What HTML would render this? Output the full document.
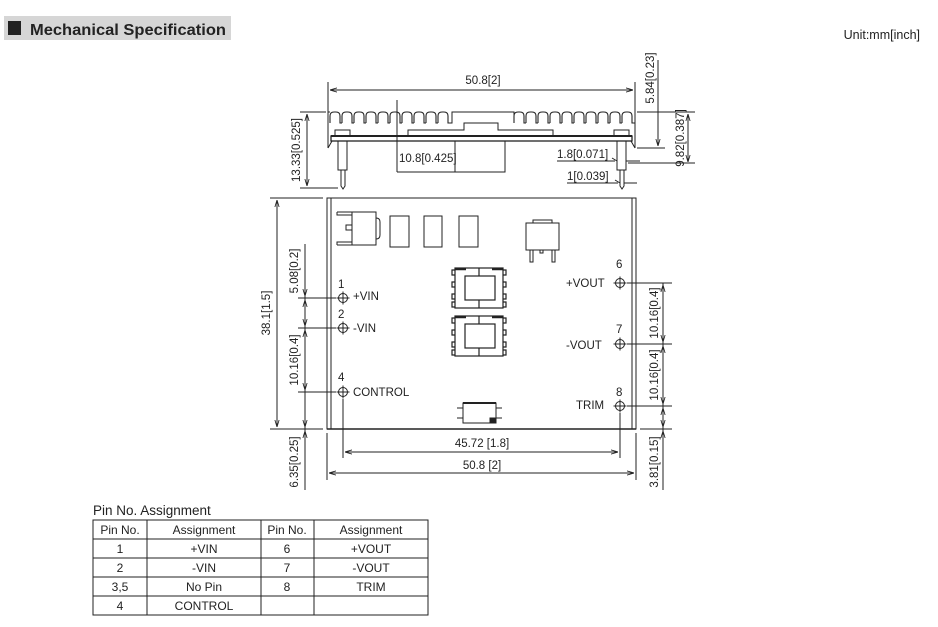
<!DOCTYPE html>
<html><head><meta charset="utf-8"><style>
html,body{margin:0;padding:0;background:#fff;width:938px;height:627px;overflow:hidden}
svg{display:block}
text{font-family:"Liberation Sans",sans-serif;fill:#222}
</style></head><body>
<svg width="938" height="627" viewBox="0 0 938 627" xmlns="http://www.w3.org/2000/svg">
<defs>
<marker id="a" viewBox="0 0 10 10" refX="10" refY="5" markerWidth="7" markerHeight="7" orient="auto-start-reverse" markerUnits="userSpaceOnUse"><path d="M0,2 L10,5 L0,8" fill="none" stroke="#222" stroke-width="1.2"/></marker>
<g id="pin"><circle r="4.5" fill="none" stroke="#222" stroke-width="1"/><line x1="-6.5" y1="0" x2="6.5" y2="0" stroke="#222"/><line x1="0" y1="-6.5" x2="0" y2="6.5" stroke="#222"/></g>
<path id="arch" d="M0,11 v-7 q0,-4 4,-4 h2 q4,0 4,4 v7 h2" fill="none" stroke="#222" stroke-width="1.1"/>
<g id="xf" fill="none" stroke="#222" stroke-width="1.2">
<rect x="455" y="0" width="48" height="40"/>
<rect x="465" y="8" width="30" height="24"/>
<line x1="479" y1="0" x2="479" y2="8"/><line x1="479" y1="32" x2="479" y2="40"/>
<path d="M455,2 h-3 v5 h3 M455,14 h-3 v5 h3 M455,26 h-3 v5 h3 M455,34 h-3 v5 h3 M503,2 h3 v5 h-3 M503,14 h3 v5 h-3 M503,26 h3 v5 h-3 M503,34 h3 v5 h-3"/>
<line x1="455" y1="1" x2="466" y2="1" stroke-width="2.5"/><line x1="492" y1="1" x2="503" y2="1" stroke-width="2.5"/>
</g>
</defs>

<!-- header -->
<rect x="4" y="16" width="227" height="24" fill="#d6d6d6"/>
<rect x="8" y="21" width="13" height="14" fill="#222"/>
<text x="30" y="35" font-size="16" font-weight="bold" textLength="196" lengthAdjust="spacingAndGlyphs">Mechanical Specification</text>
<text x="920" y="39" font-size="12.5" text-anchor="end">Unit:mm[inch]</text>

<!-- fins -->
<g transform="translate(0,112)">
<use href="#arch" x="330"/><use href="#arch" x="342"/><use href="#arch" x="354"/><use href="#arch" x="366"/><use href="#arch" x="378"/><use href="#arch" x="390"/><use href="#arch" x="402"/><use href="#arch" x="414"/><use href="#arch" x="426"/><use href="#arch" x="438"/>
<use href="#arch" x="514"/><use href="#arch" x="526"/><use href="#arch" x="538"/><use href="#arch" x="550"/><use href="#arch" x="562"/><use href="#arch" x="574"/><use href="#arch" x="586"/><use href="#arch" x="598"/><use href="#arch" x="610"/><use href="#arch" x="622"/>
</g>

<g stroke="#222" stroke-width="1" fill="none">
<!-- side view -->
<line x1="328" y1="82" x2="328" y2="148"/><line x1="635" y1="82" x2="635" y2="148"/>
<line x1="330" y1="90" x2="633" y2="90" marker-start="url(#a)" marker-end="url(#a)"/>
<path d="M328,112 h2 M450,123 h2 V112 H514 v11 M634,123 h1"/>
<rect x="331" y="136" width="301" height="5" stroke-width="1.3"/>
<line x1="331" y1="136" x2="632" y2="136" stroke-width="2"/>
<rect x="335" y="130" width="15" height="6"/><rect x="614" y="130" width="15" height="6"/>
<path d="M408,136 v-6 h56 v-7 h34 v7 h55 v6"/>
<rect x="455" y="141" width="50" height="31"/>
<path d="M338,141 v29 h9 v-29 M341,170 v16 l2,3 l2,-3 v-16"/>
<path d="M617,141 v29 h9 v-29 M620,170 v16 l2,3 l2,-3 v-16"/>
<path d="M328,148 l4,-7 M635,148 l-4,-7"/>
<!-- side dims -->
<line x1="300" y1="112" x2="326" y2="112"/><line x1="300" y1="188" x2="338" y2="188"/>
<line x1="307" y1="114" x2="307" y2="186" marker-start="url(#a)" marker-end="url(#a)"/>
<line x1="397" y1="100" x2="397" y2="172"/><line x1="397" y1="172" x2="455" y2="172"/>
<line x1="658" y1="60" x2="658" y2="146" marker-end="url(#a)"/>
<line x1="637" y1="148" x2="665" y2="148"/>
<line x1="637" y1="112" x2="695" y2="112"/>
<line x1="688" y1="114" x2="688" y2="162" marker-start="url(#a)" marker-end="url(#a)"/>
<line x1="628" y1="163" x2="695" y2="163"/>
<line x1="557" y1="161" x2="615" y2="161"/><line x1="617" y1="161" x2="612" y2="158"/>
<line x1="626" y1="161" x2="640" y2="161"/>
<line x1="567" y1="183" x2="618" y2="183"/><line x1="620" y1="183" x2="615" y2="180"/>
<line x1="624" y1="183" x2="637" y2="183"/>

<!-- top view board -->
<rect x="327" y="198" width="309" height="231"/>
<line x1="331" y1="198" x2="331" y2="429"/><line x1="632" y1="198" x2="632" y2="429"/>
<line x1="327" y1="429" x2="636" y2="429" stroke-width="1.6"/>
<!-- components -->
<rect x="352" y="212" width="24" height="33"/>
<path d="M337,212 h15 M337,245 h15 M337,212 v3 h15 M337,245 v-3 h15 M346,225 h6 v5 h-6 z M376,218 q4,0 4,4 v13 q0,4 -4,4"/>
<rect x="390" y="216" width="19" height="31"/><rect x="424" y="216" width="18" height="31"/><rect x="459" y="216" width="19" height="31"/>
<rect x="526" y="223" width="33" height="27"/><path d="M533,223 v-3 h19 v3 M530,250 v12 h3 v-12 M552,250 v12 h3 v-12 M540,250 v3 h3 v-3"/>
<use href="#xf" transform="translate(0,268)"/>
<use href="#xf" transform="translate(0,316)"/>
<rect x="463" y="403" width="33" height="20"/><line x1="463" y1="403" x2="496" y2="403" stroke-width="2"/>
<path d="M463,408 h-6 M463,418 h-6 M496,408 h6 M496,418 h6"/>
<rect x="490" y="418" width="5" height="4" fill="#222"/>
<!-- left dims -->
<line x1="270" y1="198" x2="323" y2="198"/><line x1="270" y1="429" x2="323" y2="429"/>
<line x1="277" y1="200" x2="277" y2="427" marker-start="url(#a)" marker-end="url(#a)"/>
<line x1="305" y1="244" x2="305" y2="490"/>
<line x1="305" y1="290" x2="305" y2="296" marker-end="url(#a)"/>
<line x1="305" y1="306" x2="305" y2="300" marker-end="url(#a)"/>
<line x1="305" y1="320" x2="305" y2="326" marker-end="url(#a)"/>
<line x1="305" y1="336" x2="305" y2="330" marker-end="url(#a)"/>
<line x1="305" y1="384" x2="305" y2="390" marker-end="url(#a)"/>
<line x1="305" y1="421" x2="305" y2="427" marker-end="url(#a)"/>
<line x1="305" y1="437" x2="305" y2="431" marker-end="url(#a)"/>
<line x1="298" y1="298" x2="336" y2="298"/><line x1="298" y1="328" x2="336" y2="328"/><line x1="298" y1="392" x2="336" y2="392"/>
<!-- right dims -->
<line x1="627" y1="283" x2="672" y2="283"/><line x1="627" y1="344" x2="672" y2="344"/><line x1="627" y1="406" x2="672" y2="406"/>
<line x1="640" y1="429" x2="672" y2="429"/>
<line x1="663" y1="283" x2="663" y2="490"/>
<line x1="663" y1="290" x2="663" y2="285" marker-end="url(#a)"/>
<line x1="663" y1="336" x2="663" y2="342" marker-end="url(#a)"/>
<line x1="663" y1="352" x2="663" y2="346" marker-end="url(#a)"/>
<line x1="663" y1="398" x2="663" y2="404" marker-end="url(#a)"/>
<line x1="663" y1="414" x2="663" y2="408" marker-end="url(#a)"/>
<line x1="663" y1="421" x2="663" y2="427" marker-end="url(#a)"/>
<line x1="663" y1="437" x2="663" y2="431" marker-end="url(#a)"/>
<!-- bottom dims -->
<line x1="343" y1="399" x2="343" y2="458"/><line x1="620" y1="413" x2="620" y2="458"/>
<line x1="327" y1="433" x2="327" y2="480"/><line x1="636" y1="433" x2="636" y2="480"/>
<line x1="345" y1="452" x2="618" y2="452" marker-start="url(#a)" marker-end="url(#a)"/>
<line x1="329" y1="473" x2="634" y2="473" marker-start="url(#a)" marker-end="url(#a)"/>
</g>
<use href="#pin" x="343" y="298"/><use href="#pin" x="343" y="328"/><use href="#pin" x="343" y="392"/>
<use href="#pin" x="620" y="283"/><use href="#pin" x="620" y="344"/><use href="#pin" x="620" y="406"/>

<g font-size="11.5">
<text x="483" y="84" text-anchor="middle">50.8[2]</text>
<text x="399" y="162">10.8[0.425]</text>
<text x="557" y="158">1.8[0.071]</text>
<text x="567" y="180">1[0.039]</text>
<text transform="translate(300,150) rotate(-90)" text-anchor="middle">13.33[0.525]</text>
<text transform="translate(654,78) rotate(-90)" text-anchor="middle">5.84[0.23]</text>
<text transform="translate(684,138) rotate(-90)" text-anchor="middle">9.82[0.387]</text>
<text transform="translate(270,313) rotate(-90)" text-anchor="middle">38.1[1.5]</text>
<text transform="translate(298,271) rotate(-90)" text-anchor="middle">5.08[0.2]</text>
<text transform="translate(298,360) rotate(-90)" text-anchor="middle">10.16[0.4]</text>
<text transform="translate(298,462) rotate(-90)" text-anchor="middle">6.35[0.25]</text>
<text transform="translate(658,313) rotate(-90)" text-anchor="middle">10.16[0.4]</text>
<text transform="translate(658,375) rotate(-90)" text-anchor="middle">10.16[0.4]</text>
<text transform="translate(658,462) rotate(-90)" text-anchor="middle">3.81[0.15]</text>
<text x="482" y="447" text-anchor="middle">45.72 [1.8]</text>
<text x="482" y="469" text-anchor="middle">50.8 [2]</text>
<text x="338" y="288">1</text><text x="353" y="300">+VIN</text>
<text x="338" y="318">2</text><text x="353" y="332">-VIN</text>
<text x="338" y="381">4</text><text x="353" y="396">CONTROL</text>
<text x="616" y="268">6</text><text x="566" y="287">+VOUT</text>
<text x="616" y="333">7</text><text x="566" y="349">-VOUT</text>
<text x="616" y="396">8</text><text x="576" y="409">TRIM</text>
</g>

<!-- table -->
<text x="93" y="515" font-size="13.5">Pin No.  Assignment</text>
<g stroke="#222" stroke-width="1" fill="none">
<rect x="93" y="520" width="335" height="95"/>
<line x1="147" y1="520" x2="147" y2="615"/><line x1="261" y1="520" x2="261" y2="615"/><line x1="314" y1="520" x2="314" y2="615"/>
<line x1="93" y1="539" x2="428" y2="539"/><line x1="93" y1="558" x2="428" y2="558"/><line x1="93" y1="577" x2="428" y2="577"/><line x1="93" y1="596" x2="428" y2="596"/>
</g>
<g font-size="12" text-anchor="middle">
<text x="120" y="534">Pin No.</text><text x="204" y="534">Assignment</text><text x="287" y="534">Pin No.</text><text x="371" y="534">Assignment</text>
<text x="120" y="553">1</text><text x="204" y="553">+VIN</text><text x="287" y="553">6</text><text x="371" y="553">+VOUT</text>
<text x="120" y="572">2</text><text x="204" y="572">-VIN</text><text x="287" y="572">7</text><text x="371" y="572">-VOUT</text>
<text x="120" y="591">3,5</text><text x="204" y="591">No Pin</text><text x="287" y="591">8</text><text x="371" y="591">TRIM</text>
<text x="120" y="610">4</text><text x="204" y="610">CONTROL</text>
</g>
</svg>
</body></html>
